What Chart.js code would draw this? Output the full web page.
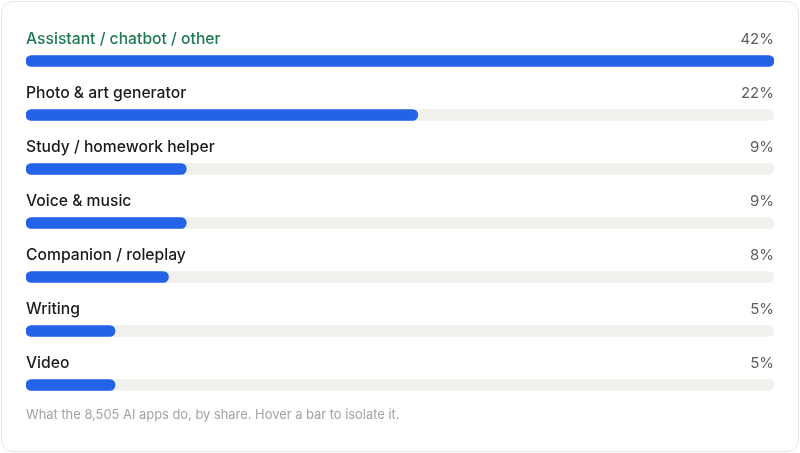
<!DOCTYPE html>
<html>
<head>
<meta charset="utf-8">
<script src="https://cdn.jsdelivr.net/npm/chart.js@4"></script>
<style>
  html, body { margin: 0; padding: 0; background: #fff; }
  .card {
    position: absolute; left: 1px; top: 1px; width: 796px; height: 449px;
    border: 1px solid #e7e7e5; border-radius: 12px; background: #fff;
  }
  #wrap { position: absolute; left: 0; top: 0; width: 800px; height: 453px; }
  .note {
    position: absolute; left: 26px; top: 407px;
    font-family: Inter, "Noto Sans", sans-serif; font-size: 12.9px; color: #a3a3a3;
  }
</style>
</head>
<body>
<div class="card"></div>
<div id="wrap"><canvas id="share-chart"></canvas></div>
<div class="note">What the 8,505 AI apps do, by share. Hover a bar to isolate it.</div>
<script>
const categories = [
  "Assistant / chatbot / other",
  "Photo & art generator",
  "Study / homework helper",
  "Voice & music",
  "Companion / roleplay",
  "Writing",
  "Video",
];
const shares = [42, 22, 9, 9, 8, 5, 5];
const maxShare = 42;
const trackValues = categories.map(() => maxShare);

const shareChart = document.getElementById("share-chart");

// labels above each bar, percent on the right
const rowLabels = {
  id: "rowLabels",
  afterDatasetsDraw(chart) {
    const ctx = chart.ctx;
    const yScale = chart.scales.y;
    const area = chart.chartArea;
    ctx.save();
    ctx.textBaseline = "middle";
    categories.forEach((name, i) => {
      const y = yScale.getPixelForValue(i) - 22;
      ctx.font = "500 15.7px Inter, 'Noto Sans', sans-serif";
      ctx.fillStyle = i === 0 ? "#1f7a52" : "#1a1a1a";
      ctx.textAlign = "left";
      ctx.fillText(name, area.left, y);
      ctx.font = "15px Inter, 'Noto Sans', sans-serif";
      ctx.fillStyle = "#5c5c5c";
      ctx.textAlign = "right";
      ctx.fillText(shares[i] + "%", area.right, y);
    });
    ctx.restore();
  },
};

new Chart(shareChart, {
  type: "bar",
  data: {
    labels: categories,
    datasets: [
      {
        label: "Share",
        data: shares,
        backgroundColor: "#2462e6",
        order: 0,
      },
      {
        label: "Track",
        data: trackValues,
        backgroundColor: "#f0f0ed",
        order: 1,
      },
    ],
  },
  options: {
    indexAxis: "y",
    responsive: true,
    maintainAspectRatio: false,
    animation: false,
    layout: { padding: { left: 26, right: 26, top: 34, bottom: 41 } },
    datasets: {
      bar: {
        grouped: false,
        barThickness: 11,
        borderRadius: 6,
        borderSkipped: false,
      },
    },
    scales: {
      x: { display: false, min: 0, max: maxShare },
      y: { display: false },
    },
    plugins: {
      legend: { display: false },
      tooltip: { enabled: false },
    },
  },
  plugins: [rowLabels],
});
</script>
</body>
</html>
